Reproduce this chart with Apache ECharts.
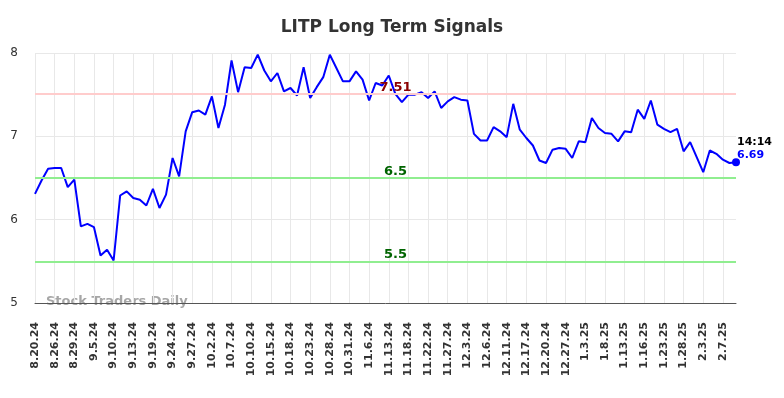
<!DOCTYPE html>
<html>
<head>
<meta charset="utf-8">
<title>LITP Long Term Signals</title>
<script src="https://cdn.jsdelivr.net/npm/echarts@6/dist/echarts.min.js"></script>
<style>
  html, body { margin: 0; padding: 0; background: #ffffff; }
  #chart { width: 784px; height: 398px; }
</style>
</head>
<body>
<div id="chart"></div>
<script>
// dates (every 3rd one is shown on the axis)
var dates = [
  '8.20.24', '8.21.24', '8.23.24', '8.26.24', '8.27.24', '8.28.24',
  '8.29.24', '8.30.24', '9.4.24', '9.5.24', '9.6.24', '9.9.24',
  '9.10.24', '9.11.24', '9.12.24', '9.13.24', '9.16.24', '9.18.24',
  '9.19.24', '9.20.24', '9.23.24', '9.24.24', '9.25.24', '9.26.24',
  '9.27.24', '9.30.24', '10.1.24', '10.2.24', '10.3.24', '10.4.24',
  '10.7.24', '10.8.24', '10.9.24', '10.10.24', '10.11.24', '10.14.24',
  '10.15.24', '10.16.24', '10.17.24', '10.18.24', '10.21.24', '10.22.24',
  '10.23.24', '10.24.24', '10.25.24', '10.28.24', '10.29.24', '10.30.24',
  '10.31.24', '11.1.24', '11.5.24', '11.6.24', '11.8.24', '11.11.24',
  '11.13.24', '11.14.24', '11.15.24', '11.18.24', '11.19.24', '11.21.24',
  '11.22.24', '11.25.24', '11.26.24', '11.27.24', '11.29.24', '12.2.24',
  '12.3.24', '12.4.24', '12.5.24', '12.6.24', '12.9.24', '12.10.24',
  '12.11.24', '12.12.24', '12.16.24', '12.17.24', '12.18.24', '12.19.24',
  '12.20.24', '12.23.24', '12.26.24', '12.27.24', '12.30.24', '1.2.25',
  '1.3.25', '1.6.25', '1.7.25', '1.8.25', '1.9.25', '1.10.25',
  '1.13.25', '1.14.25', '1.15.25', '1.16.25', '1.17.25', '1.21.25',
  '1.23.25', '1.24.25', '1.27.25', '1.28.25', '1.29.25', '1.31.25',
  '2.3.25', '2.4.25', '2.6.25', '2.7.25', '2.10.25', '2.11.25'
]

var prices = [
  6.31, 6.47, 6.61, 6.62, 6.62, 6.39, 6.48, 5.92, 5.95, 5.91, 5.57, 5.64,
  5.51, 6.29, 6.34, 6.26, 6.24, 6.17, 6.37, 6.14, 6.30, 6.74, 6.52, 7.06,
  7.29, 7.31, 7.26, 7.48, 7.10, 7.38, 7.91, 7.53, 7.83, 7.82, 7.98, 7.79,
  7.66, 7.76, 7.54, 7.58, 7.49, 7.83, 7.46, 7.59, 7.71, 7.98, 7.82, 7.66,
  7.66, 7.78, 7.68, 7.43, 7.64, 7.61, 7.73, 7.51, 7.41, 7.50, 7.50, 7.53,
  7.46, 7.54, 7.34, 7.42, 7.47, 7.44, 7.43, 7.03, 6.95, 6.95, 7.11, 7.06,
  6.99, 7.39, 7.08, 6.98, 6.89, 6.71, 6.68, 6.84, 6.86, 6.85, 6.74, 6.94,
  6.93, 7.22, 7.10, 7.04, 7.03, 6.94, 7.06, 7.05, 7.32, 7.21, 7.43, 7.14,
  7.09, 7.05, 7.09, 6.82, 6.93, 6.75, 6.57, 6.83, 6.79, 6.72, 6.68, 6.69
]

var resistance = 7.51
var supports = [6.5, 5.5]
var yTicks = [5, 6, 7, 8]
var lastTime = '14:14'

var chart = echarts.init(document.getElementById('chart'))

var lastIdx = prices.length - 1
var seriesData = prices.map(function (v, i) {
  if (i !== lastIdx) return v
  return {
    value: v,
    label: {
      show: true,
      position: [5, -23],
      align: 'left',
      verticalAlign: 'top',
      formatter: '{t|' + lastTime + '}\n{v|' + v.toFixed(2) + '}',
      rich: {
        t: { color: '#000000', fontWeight: 'bold', fontSize: 11, fontFamily: 'DejaVu Sans', lineHeight: 13 },
        v: { color: '#0000ff', fontWeight: 'bold', fontSize: 11, fontFamily: 'DejaVu Sans', lineHeight: 13 }
      }
    }
  }
})

var markData = [
  {
    yAxis: resistance,
    lineStyle: { color: '#ffcccc', width: 2, type: 'solid' },
    label: { color: '#8b0000', formatter: resistance.toFixed(2) }
  }
]
supports.forEach(function (s) {
  markData.push({
    yAxis: s,
    lineStyle: { color: '#90ee90', width: 2, type: 'solid' },
    label: { color: '#006400', formatter: String(s) }
  })
})

var option = {
  animation: false,
  backgroundColor: '#ffffff',
  title: {
    text: 'LITP Long Term Signals',
    left: 'center',
    top: 14,
    textStyle: { fontFamily: 'DejaVu Sans', fontSize: 17, fontWeight: 'bold', color: '#333333' }
  },
  grid: { left: 35, right: 48, top: 53, bottom: 95 },
  xAxis: {
    type: 'category',
    data: dates,
    boundaryGap: false,
    axisLine: { lineStyle: { color: '#555555', width: 1 } },
    axisTick: { show: false },
    axisLabel: {
      interval: 2,
      rotate: 90,
      margin: 19,
      fontFamily: 'DejaVu Sans',
      fontSize: 11,
      fontWeight: 'bold',
      color: '#333333'
    },
    splitLine: { show: true, interval: 2, lineStyle: { color: '#e8e8e8', width: 1 } }
  },
  yAxis: {
    type: 'value',
    min: yTicks[0],
    max: yTicks[yTicks.length - 1],
    interval: 1,
    axisLine: { show: false },
    axisTick: { show: false },
    axisLabel: { margin: 17, fontFamily: 'DejaVu Sans', fontSize: 12, color: '#333333' },
    splitLine: { lineStyle: { color: '#e8e8e8', width: 1 } }
  },
  graphic: [
    {
      type: 'text',
      left: 46,
      top: 295,
      style: {
        text: 'Stock Traders Daily',
        fill: 'rgba(150,150,150,0.85)',
        font: 'bold 13px "DejaVu Sans"'
      }
    }
  ],
  series: [
    {
      type: 'line',
      data: seriesData,
      showSymbol: true,
      symbol: 'circle',
      symbolSize: function (val, params) {
        return params.dataIndex === lastIdx ? 8 : 0
      },
      lineStyle: { color: '#0000ff', width: 2 },
      itemStyle: { color: '#0000ff' },
      z: 3,
      markLine: {
        silent: true,
        symbol: 'none',
        animation: false,
        label: {
          position: 'middle',
          offset: [10, 5],
          fontFamily: 'DejaVu Sans',
          fontSize: 13,
          fontWeight: 'bold'
        },
        data: markData
      }
    }
  ]
}

chart.setOption(option)
</script>
</body>
</html>
